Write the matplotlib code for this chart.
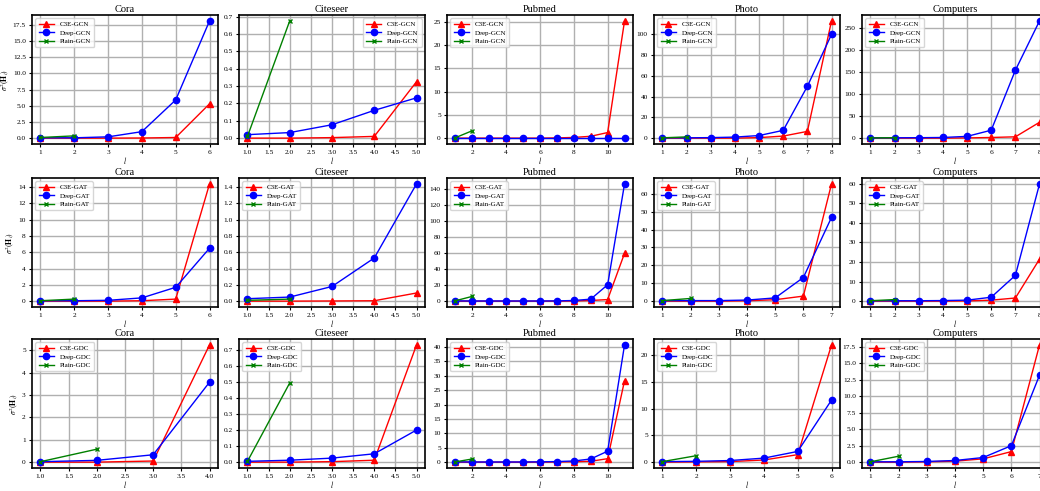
import matplotlib
matplotlib.use("Agg")
import matplotlib.pyplot as plt
from matplotlib.ticker import MultipleLocator

W, H = 1040, 491

datasets = ["Cora", "Citeseer", "Pubmed", "Photo", "Computers"]
models = ["GCN", "GAT", "GDC"]

# layer counts per (model, dataset)
n_layers = {
    "GCN": [6, 5, 11, 8, 8],
    "GAT": [6, 5, 11, 7, 8],
    "GDC": [4, 5, 11, 6, 7],
}

# C3E variance per layer
c3e = {
    "GCN": [
        [0.0, 0.0, 0.0, 0.02, 0.1, 5.3],
        [0.0, 0.0, 0.003, 0.01, 0.325],
        [0.0, 0.0, 0.0, 0.0, 0.0, 0.0, 0.05, 0.15, 0.4, 1.2, 25.2],
        [0.0, 0.0, 0.0, 0.0, 0.5, 2.0, 6.5, 113.0],
        [0.0, 0.0, 0.0, 0.0, 0.5, 1.5, 3.0, 36.0],
    ],
    "GAT": [
        [0.0, 0.0, 0.0, 0.05, 0.25, 14.4],
        [0.0, 0.0, 0.002, 0.005, 0.1],
        [0.0, 0.0, 0.0, 0.0, 0.0, 0.0, 0.0, 0.2, 0.8, 2.0, 60.0],
        [0.0, 0.0, 0.0, 0.2, 0.8, 2.8, 65.5],
        [0.0, 0.0, 0.0, 0.0, 0.1, 0.5, 1.6, 21.5],
    ],
    "GDC": [
        [0.0, 0.0, 0.05, 5.25],
        [0.0, 0.0, 0.003, 0.012, 0.73],
        [0.0, 0.0, 0.0, 0.0, 0.0, 0.0, 0.05, 0.15, 0.3, 1.2, 28.3],
        [0.0, 0.05, 0.1, 0.4, 1.4, 21.9],
        [0.0, 0.0, 0.05, 0.15, 0.5, 1.6, 17.8],
    ],
}

# Deep variance per layer
deep = {
    "GCN": [
        [0.05, 0.05, 0.2, 1.0, 5.9, 18.1],
        [0.02, 0.032, 0.077, 0.16, 0.232],
        [0.05, 0.05, 0.05, 0.05, 0.05, 0.05, 0.05, 0.05, 0.05, 0.05, 0.05],
        [0.3, 0.3, 0.5, 1.0, 2.5, 7.5, 50.0, 100.0],
        [0.5, 0.8, 1.0, 1.5, 4.0, 18.0, 154.0, 266.0],
    ],
    "GAT": [
        [0.05, 0.05, 0.1, 0.4, 1.7, 6.5],
        [0.03, 0.05, 0.18, 0.53, 1.44],
        [0.3, 0.2, 0.2, 0.2, 0.2, 0.2, 0.3, 0.8, 2.5, 20.5, 147.0],
        [0.3, 0.3, 0.3, 0.6, 1.8, 13.2, 46.8],
        [0.2, 0.2, 0.2, 0.3, 0.5, 2.0, 13.2, 60.0],
    ],
    "GDC": [
        [0.02, 0.08, 0.33, 3.58],
        [0.005, 0.012, 0.025, 0.052, 0.2],
        [0.1, 0.05, 0.05, 0.05, 0.05, 0.1, 0.2, 0.4, 1.1, 3.8, 40.7],
        [0.1, 0.15, 0.3, 0.75, 2.0, 11.6],
        [0.05, 0.05, 0.1, 0.25, 0.7, 2.5, 13.2],
    ],
}

# Plain variance (only two layers)
plain = {
    "GCN": [[0.1, 0.35], [0.01, 0.675], [0.1, 1.6], [0.3, 1.2], [0.5, 1.0]],
    "GAT": [[0.05, 0.25], [0.01, 0.025], [0.5, 6.0], [0.3, 1.5], [0.2, 0.8]],
    "GDC": [[0.02, 0.58], [0.005, 0.493], [0.1, 1.1], [0.1, 1.2], [0.05, 0.9]],
}

# tick steps
x_step = {
    "GCN": [1, 0.5, 2, 1, 1],
    "GAT": [1, 0.5, 2, 1, 1],
    "GDC": [0.5, 0.5, 2, 1, 1],
}
y_step = {
    "GCN": [2.5, 0.1, 5, 20, 50],
    "GAT": [2, 0.2, 20, 10, 10],
    "GDC": [1, 0.1, 5, 5, 2.5],
}

plt.rcParams["font.family"] = ["Liberation Serif", "DejaVu Serif"]
plt.rcParams["mathtext.fontset"] = "stix"
plt.rcParams["axes.linewidth"] = 1.2

fig = plt.figure(figsize=(W / 100, H / 100), dpi=100)

col_left = [32, 239, 447, 654, 862]
ax_w = 186
row_top = [15, 178, 339]
ax_h = 129

for r, m in enumerate(models):
    for c, name in enumerate(datasets):
        ax = fig.add_axes([col_left[c] / W, 1 - (row_top[r] + ax_h) / H,
                           ax_w / W, ax_h / H])
        x = list(range(1, n_layers[m][c] + 1))
        ax.plot(x, c3e[m][c], color="red", marker="^", ms=4.5, lw=1,
                label="C3E-" + m, zorder=3)
        ax.plot(x, deep[m][c], color="blue", marker="o", ms=4.5, lw=1,
                label="Deep-" + m, zorder=3)
        ax.plot([1, 2], plain[m][c], color="green", marker="x", ms=3.5,
                lw=1, label="Plain-" + m, zorder=3)
        ax.xaxis.set_major_locator(MultipleLocator(x_step[m][c]))
        ax.yaxis.set_major_locator(MultipleLocator(y_step[m][c]))
        ax.set_title(name, fontsize=7.5, pad=2.5)
        ax.set_xlabel(r"$l$", fontsize=5.5, labelpad=0)
        if c == 0:
            ax.set_ylabel(r"$\sigma^2(\mathbf{H}_l)$", fontsize=5.5, labelpad=1.5)
        ax.grid(True, color="#b0b0b0", lw=1)
        ax.set_axisbelow(True)
        ax.tick_params(labelsize=5.3, length=2.5, width=0.8, pad=2)
        loc = "upper right" if (m == "GCN" and name == "Citeseer") else "upper left"
        ax.legend(loc=loc, fontsize=5, handlelength=2.2, borderpad=0.45,
                  labelspacing=0.35, framealpha=0.8)

fig.savefig("out.png", dpi=100)
